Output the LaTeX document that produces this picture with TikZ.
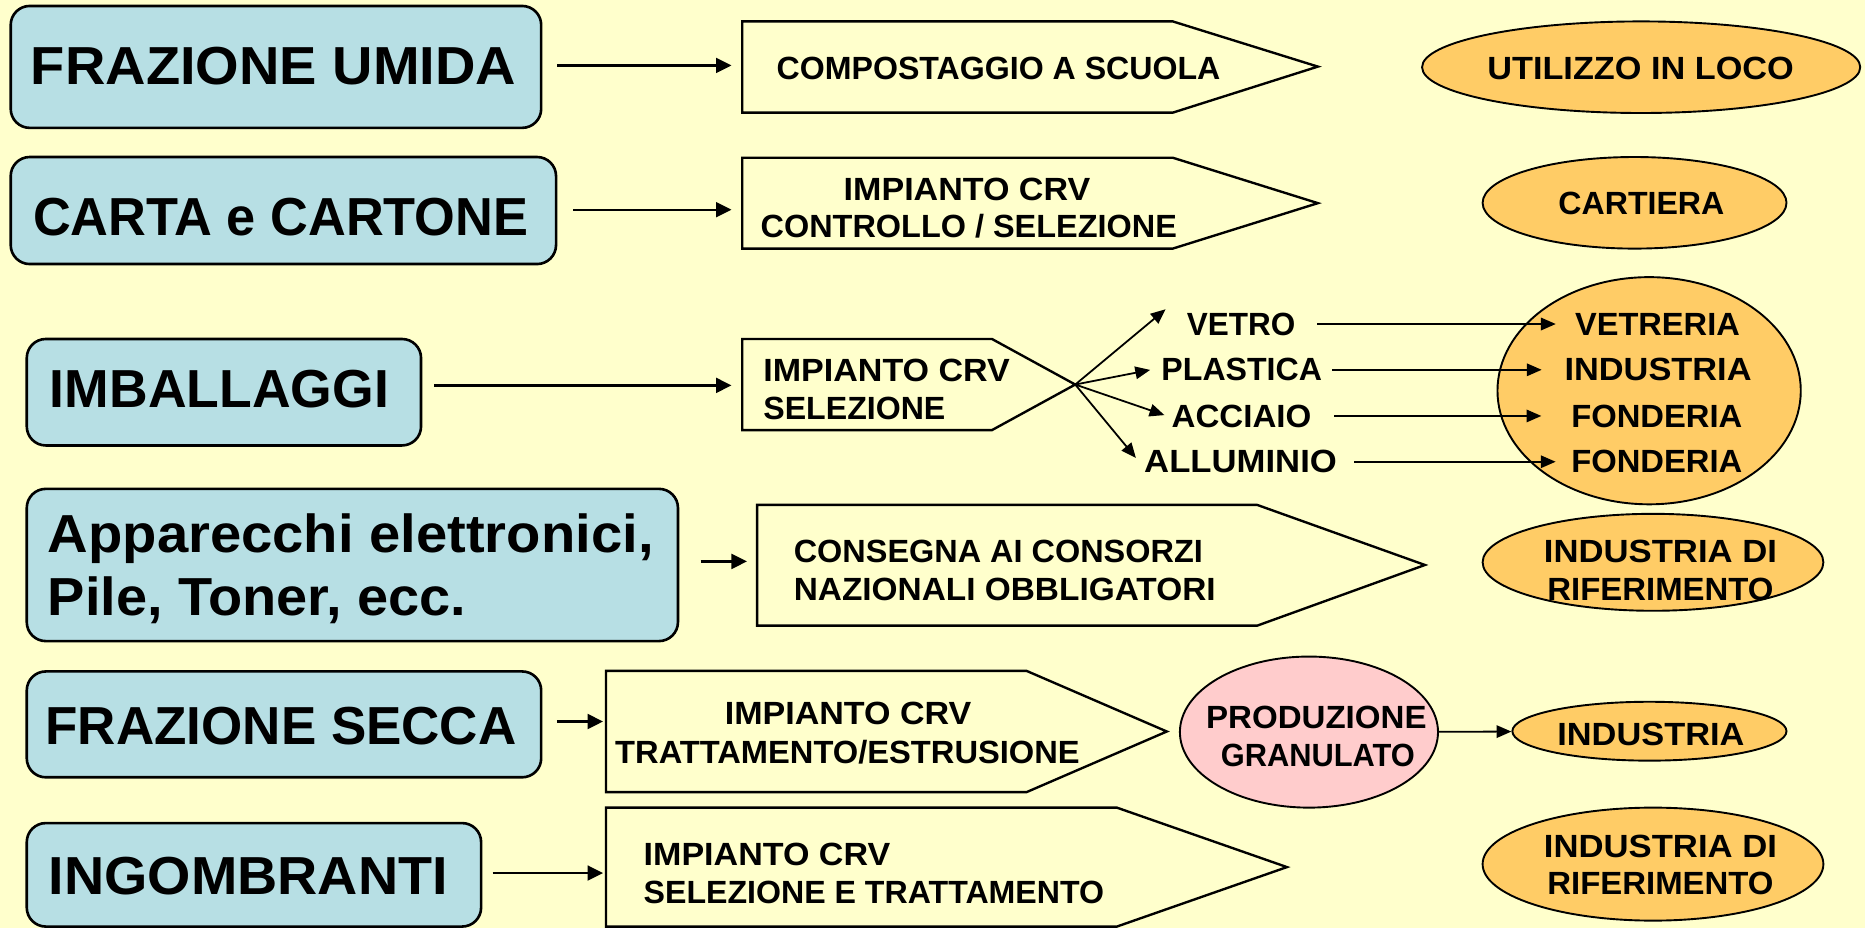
\documentclass[tikz,border=0pt]{standalone}
\usepackage{fontspec}
\setmainfont{Liberation Sans}
\usetikzlibrary{arrows.meta,shapes.geometric}
\definecolor{bgyellow}{HTML}{FFFFCC}
\definecolor{boxblue}{HTML}{B7DFE4}
\definecolor{ovalorange}{HTML}{FFCC66}
\definecolor{ovalpink}{HTML}{FFCCCC}
\newcommand{\hsc}[2]{\scalebox{#1}[1]{#2}}
\begin{document}
\begin{tikzpicture}[x=1pt,y=-1pt,
  leftbox/.style={rectangle, draw=black, line width=2.2pt, fill=boxblue, rounded corners=16pt, inner sep=0pt},
  bigtxt/.style={font=\fontsize{45}{48}\selectfont\bfseries, inner sep=0pt},
  smalltxt/.style={font=\fontsize{27}{31}\selectfont\bfseries, inner sep=0pt},
  pentbox/.style={draw=black, line width=2pt, fill=bgyellow, line join=miter},
  oval/.style={ellipse, draw=black, line width=1.6pt, fill=ovalorange, inner sep=0pt},
  arr/.style={-{Triangle[length=12.5pt,width=10.5pt]}, line width=1.5pt},
  bigarr/.style={-{Triangle[length=13pt,width=12.5pt]}, line width=2pt}
]
\fill[bgyellow] (0,0) rectangle (1568,780);
\useasboundingbox (0,0) rectangle (1568,780);

% ---------- left boxes ----------
\node[leftbox, minimum width=446pt, minimum height=102.5pt] (b1) at (232,56.25) {};
\node[leftbox, minimum width=458.5pt, minimum height=90pt] (b2) at (238.25,177) {};
\node[leftbox, minimum width=331.5pt, minimum height=89.5pt] (b3) at (188.25,329.75) {};
\node[leftbox, minimum width=547.5pt, minimum height=128pt] (b4) at (296.25,475) {};
\node[leftbox, minimum width=432.5pt, minimum height=89pt] (b5) at (238.75,609) {};
\node[leftbox, minimum width=382pt, minimum height=87pt] (b6) at (213.5,735.5) {};

\node[bigtxt, anchor=base] (t1) at (230,71.3) {\hsc{1.046}{FRAZIONE UMIDA}};
\node[bigtxt, anchor=base] (t2) at (236,198.3) {\hsc{0.978}{CARTA e CARTONE}};
\node[bigtxt, anchor=base] (t3) at (184.5,343) {IMBALLAGGI};
\node[bigtxt, anchor=base west] (t4a) at (40,464.5) {\hsc{1.05}{Apparecchi elettronici,}};
\node[bigtxt, anchor=base west] (t4b) at (40,517.6) {\hsc{1.045}{Pile, Toner, ecc.}};
\node[bigtxt, anchor=base] (t5) at (236.3,625.6) {\hsc{0.99}{FRAZIONE SECCA}};
\node[bigtxt, anchor=base] (t6) at (208.7,752) {\hsc{1.04}{INGOMBRANTI}};

% ---------- pentagon arrows ----------
\draw[pentbox] (624,18) -- (986,18) -- (1108,56) -- (986,94.7) -- (624,94.7) -- cycle;
\draw[pentbox] (624,132.6) -- (986,132.6) -- (1108,170.8) -- (986,209) -- (624,209) -- cycle;
\draw[pentbox] (624,285) -- (834,285) -- (904,323.3) -- (834,361.6) -- (624,361.6) -- cycle;
\draw[pentbox] (636.5,424.5) -- (1057,424.5) -- (1198,475) -- (1057,526) -- (636.5,526) -- cycle;
\draw[pentbox] (509.5,564) -- (863,564) -- (981,615) -- (863,666) -- (509.5,666) -- cycle;
\draw[pentbox] (509.5,679) -- (939,679) -- (1082,729) -- (939,779) -- (509.5,779) -- cycle;

\coordinate (p1in) at (624,55);
\coordinate (p2in) at (624,176.3);
\coordinate (p3in) at (624,324);
\coordinate (p4in) at (636.5,472);
\coordinate (p5in) at (509.5,606.6);
\coordinate (p6in) at (509.5,734);
\coordinate (p3tip) at (904,323.3);

\node[smalltxt, anchor=base] (c1) at (839.5,66.7) {COMPOSTAGGIO A SCUOLA};
\node[smalltxt, anchor=base] (c2a) at (813,168.2) {\hsc{1.06}{IMPIANTO CRV}};
\node[smalltxt, anchor=base] (c2b) at (814.5,199.6) {\hsc{1.01}{CONTROLLO / SELEZIONE}};
\node[smalltxt, anchor=base west] (c3a) at (641.6,320.7) {\hsc{1.06}{IMPIANTO CRV}};
\node[smalltxt, anchor=base west] (c3b) at (641.6,353) {SELEZIONE};
\node[smalltxt, anchor=base west] (c4a) at (667.2,473) {\hsc{1.01}{CONSEGNA AI CONSORZI}};
\node[smalltxt, anchor=base west] (c4b) at (667.2,504.6) {\hsc{1.04}{NAZIONALI OBBLIGATORI}};
\node[smalltxt, anchor=base] (c5a) at (713,609) {\hsc{1.06}{IMPIANTO CRV}};
\node[smalltxt, anchor=base] (c5b) at (712.5,641.7) {\hsc{1.017}{TRATTAMENTO/ESTRUSIONE}};
\node[smalltxt, anchor=base west] (c6a) at (541,728) {\hsc{1.06}{IMPIANTO CRV}};
\node[smalltxt, anchor=base west] (c6b) at (541,759.5) {SELEZIONE E TRATTAMENTO};

% ---------- arrows left -> pentagons ----------
\draw[bigarr, shorten <=12.5pt, shorten >=9pt] (b1.east |- p1in) -- (p1in);
\draw[bigarr, shorten <=13.5pt, shorten >=9pt] (b2.east |- p2in) -- (p2in);
\draw[bigarr, shorten <=10pt, shorten >=9pt] (b3.east |- p3in) -- (p3in);
\draw[bigarr, shorten <=18pt, shorten >=8.5pt] (b4.east |- p4in) -- (p4in);
\draw[bigarr, shorten <=12pt, shorten >=2.5pt] (b5.east |- p5in) -- (p5in);
\draw[bigarr, shorten <=8.5pt, shorten >=2.5pt] (b6.east |- p6in) -- (p6in);

% ---------- ellipses ----------
\node[oval, minimum width=368.4pt, minimum height=77pt] (e1) at (1379.8,56.5) {};
\node[oval, minimum width=255.5pt, minimum height=77pt] (e2) at (1374.25,170.5) {};
\node[oval, minimum width=255pt, minimum height=191pt] (e3) at (1386.5,328.5) {};
\node[oval, minimum width=286.5pt, minimum height=81.5pt] (e4) at (1389.75,472.75) {};
\node[oval, fill=ovalpink, minimum width=217pt, minimum height=127pt] (e5) at (1100.5,615.5) {};
\node[oval, minimum width=230.5pt, minimum height=49.5pt] (e6) at (1386.75,614.75) {};
\node[oval, minimum width=286.5pt, minimum height=95pt] (e7) at (1389.75,726.5) {};

\node[smalltxt, anchor=base] (u1) at (1379.3,66.7) {\hsc{1.067}{UTILIZZO IN LOCO}};
\node[smalltxt, anchor=base] (u2) at (1380,180) {CARTIERA};
\node[smalltxt, anchor=base] (r1) at (1393.5,281.7) {\hsc{1.015}{VETRERIA}};
\node[smalltxt, anchor=base] (r2) at (1394,320.2) {\hsc{1.07}{INDUSTRIA}};
\node[smalltxt, anchor=base] (r3) at (1393,359) {\hsc{1.02}{FONDERIA}};
\node[smalltxt, anchor=base] (r4) at (1393,397.5) {\hsc{1.02}{FONDERIA}};
\node[smalltxt, anchor=base] (u4a) at (1396,473) {\hsc{1.08}{INDUSTRIA DI}};
\node[smalltxt, anchor=base] (u4b) at (1396,505) {\hsc{1.025}{RIFERIMENTO}};
\node[smalltxt, anchor=base] (u5a) at (1106.7,612.6) {\hsc{1.03}{PRODUZIONE}};
\node[smalltxt, anchor=base] (u5b) at (1108,644.8) {\hsc{0.96}{GRANULATO}};
\node[smalltxt, anchor=base] (u6) at (1388,627) {\hsc{1.07}{INDUSTRIA}};
\node[smalltxt, anchor=base] (u7a) at (1396,721) {\hsc{1.08}{INDUSTRIA DI}};
\node[smalltxt, anchor=base] (u7b) at (1396,752) {\hsc{1.025}{RIFERIMENTO}};

% ---------- materials ----------
\node[smalltxt, anchor=base] (m1) at (1043.5,281.7) {\hsc{0.98}{VETRO}};
\node[smalltxt, anchor=base] (m2) at (1044,320.2) {PLASTICA};
\node[smalltxt, anchor=base] (m3) at (1043.8,359) {\hsc{1.03}{ACCIAIO}};
\node[smalltxt, anchor=base] (m4) at (1043,397.5) {\hsc{1.08}{ALLUMINIO}};

\coordinate (f1) at (980,260);
\coordinate (f2) at (967,311);
\coordinate (f3) at (979,349);
\coordinate (f4) at (955,385);
\draw[arr] (p3tip) -- (f1);
\draw[arr] (p3tip) -- (f2);
\draw[arr] (p3tip) -- (f3);
\draw[arr] (p3tip) -- (f4);

\draw[arr, shorten <=18pt, shorten >=16pt] (m1) -- (r1);
\draw[arr, shorten <=8.5pt, shorten >=19pt] (m2) -- (r2);
\draw[arr, shorten <=19pt, shorten >=25pt] (m3) -- (r3);
\draw[arr, shorten <=14.5pt, shorten >=13pt] (m4) -- (r4);

\draw[arr] (e5) -- (e6);
\end{tikzpicture}
\end{document}
